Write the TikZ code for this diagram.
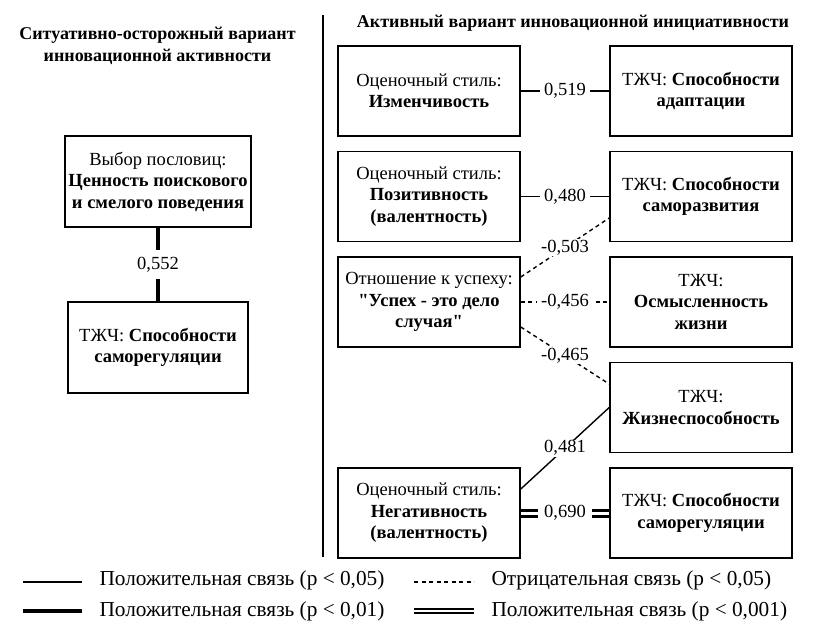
\documentclass[tikz,border=0pt]{standalone}
\usepackage{fontspec}
\setmainfont{Liberation Serif}
\newcommand\dq{\XeTeXglyph\the\XeTeXcharglyph"22\relax}
\begin{document}
\begin{tikzpicture}[x=1pt, y=-1pt]
      \tikzstyle{box}=[draw, line width=1.6pt, minimum width=182pt, minimum height=90pt,
                       align=center, font=\fontsize{18.5}{21.5}\selectfont]
      \tikzstyle{head}=[align=center, font=\fontsize{18}{22}\selectfont\bfseries]
      \tikzstyle{val}=[fill=white, inner sep=4pt, font=\fontsize{18.5}{21.5}\selectfont]
      \tikzstyle{thin}=[line width=1.4pt]
      \tikzstyle{thick}=[line width=3.8pt]
      \tikzstyle{neg}=[line width=1.4pt, dash pattern=on 4pt off 3.5pt]
      \tikzstyle{dbl}=[double, line width=3pt, double distance=3pt]
      \tikzstyle{legend}=[anchor=west, font=\fontsize{21.3}{23}\selectfont]
      \useasboundingbox (0,0) rectangle (823,634);
      % left part
      \node[head] (lhead) at (157.5, 46) {Ситуативно-осторожный вариант\\инновационной активности};
      \node[box, minimum width=180pt, minimum height=91pt] (proverb) at (158, 181.5)
           {Выбор пословиц:\\\textbf{Ценность поискового}\\\textbf{и смелого поведения}};
      \node[box, minimum width=180pt, minimum height=91pt] (selfreg) at (158, 347.5)
           {ТЖЧ: \textbf{Способности}\\\textbf{саморегуляции}};
      \draw[thick] (proverb) -- node[val, inner sep=7pt] {0,552} (selfreg);
      \draw[line width=1.6pt] (323, 15) -- (323, 557);
      % right part
      \node[head] (rhead) at (573, 23) {Активный вариант инновационной инициативности};
      \node[box] (change)  at (429, 91)    {Оценочный стиль:\\\textbf{Изменчивость}};
      \node[box] (posit)   at (429, 196.5) {Оценочный стиль:\\\textbf{Позитивность}\\\textbf{(валентность)}};
      \node[box] (success) at (429, 302)   {Отношение к успеху:\\\textbf{\dq Успех - это дело}\\\textbf{случая\dq}};
      \node[box] (negat)   at (429, 513)   {Оценочный стиль:\\\textbf{Негативность}\\\textbf{(валентность)}};
      \node[box] (adapt)    at (701, 91)    {ТЖЧ: \textbf{Способности}\\\textbf{адаптации}};
      \node[box] (selfdev)  at (701, 196.5) {ТЖЧ: \textbf{Способности}\\\textbf{саморазвития}};
      \node[box] (meaning)  at (701, 302)   {ТЖЧ:\\\textbf{Осмысленность}\\\textbf{жизни}};
      \node[box] (vital)    at (701, 407.5) {ТЖЧ:\\\textbf{Жизнеспособность}};
      \node[box] (selfreg2) at (701, 513)   {ТЖЧ: \textbf{Способности}\\\textbf{саморегуляции}};
      \draw[thin] (change) -- node[val] {0,519} (adapt);
      \draw[thin] (posit) -- node[val] {0,480} (selfdev);
      \draw[neg] ([yshift=25pt]success.east) -- node[val, inner sep=1pt] {-0,503} ([yshift=-21.5pt]selfdev.west);
      \draw[neg] (success) -- node[val] {-0,456} (meaning);
      \draw[neg] ([yshift=-25pt]success.east) -- node[val, inner sep=1pt] {-0,465} ([yshift=23.5pt]vital.west);
      \draw[thin] ([yshift=24pt]negat.east) -- node[val, inner sep=1pt] {0,481} (vital.west);
      \draw[dbl] (negat) -- node[val, inner sep=6pt] {0,690} (selfreg2);
      % legend
      \draw[thin] (23, 582) -- (82, 582);
      \node[legend] (l1) at (96, 580) {Положительная связь (p < 0,05)};
      \draw[thick] (23, 611) -- (82, 611);
      \node[legend] (l2) at (96, 611) {Положительная связь (p < 0,01)};
      \draw[neg] (414, 582) -- (474, 582);
      \node[legend] (l3) at (488, 580) {Отрицательная связь (p < 0,05)};
      \draw[double, line width=2pt, double distance=2.5pt] (414, 611) -- (474, 611);
      \node[legend] (l4) at (488, 611) {Положительная связь (p < 0,001)};
    \end{tikzpicture}
\end{document}
